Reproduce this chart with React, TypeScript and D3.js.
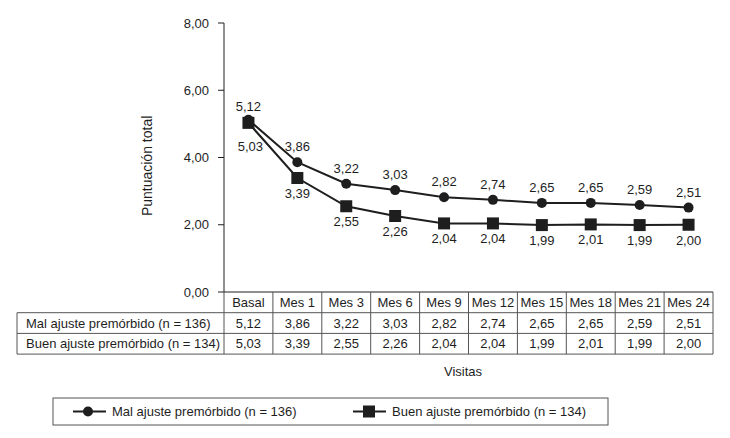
import * as d3 from 'd3';

const visits = ['Basal', 'Mes 1', 'Mes 3', 'Mes 6', 'Mes 9', 'Mes 12', 'Mes 15', 'Mes 18', 'Mes 21', 'Mes 24'];
const malAjuste = [5.12, 3.86, 3.22, 3.03, 2.82, 2.74, 2.65, 2.65, 2.59, 2.51];
const buenAjuste = [5.03, 3.39, 2.55, 2.26, 2.04, 2.04, 1.99, 2.01, 1.99, 2.0];
const yTicks = [0, 2, 4, 6, 8];
const malLabel = 'Mal ajuste premórbido (n = 136)';
const buenLabel = 'Buen ajuste premórbido (n = 134)';

const W = 730;
const H = 438;
const font = '"Liberation Sans", Arial, Helvetica, sans-serif';
const ink = '#1e1e1e';
const grid = '#555';

const fmt = (v: number) => v.toFixed(2).replace('.', ',');

export default function App() {
  const x = d3.scaleBand<string>().domain(visits).range([224, 713]).padding(0);
  const y = d3.scaleLinear().domain([0, 8]).range([292, 23]);
  const cx = (v: string) => (x(v) ?? 0) + x.bandwidth() / 2;

  const line = d3
    .line<number>()
    .x((_, i) => cx(visits[i]))
    .y((d) => y(d));

  const rowTop = y(0);
  const rowH = 20.7;
  const labelLeft = 17;
  const tableRight = x.range()[1];

  return (
    <div style={{ position: 'absolute', left: 0, top: 0 }}>
      <svg width={W} height={H} style={{ display: 'block', background: '#fff' }} fontFamily={font} fill={ink}>
        {/* y axis */}
        <line x1={224} x2={224} y1={y(8)} y2={y(0)} stroke={ink} strokeWidth={1} />
        {yTicks.map((t) => (
          <g key={t}>
            <line x1={218} x2={224} y1={y(t)} y2={y(t)} stroke={ink} />
            <text x={209} y={y(t) + 4.5} textAnchor="end" fontSize={13}>
              {fmt(t)}
            </text>
          </g>
        ))}
        <text
          transform={`translate(152, ${y(3.75)}) rotate(-90)`}
          textAnchor="middle"
          fontSize={14}
        >
          Puntuación total
        </text>

        {/* series */}
        <path d={line(malAjuste) ?? ''} fill="none" stroke={ink} strokeWidth={2} />
        <path d={line(buenAjuste) ?? ''} fill="none" stroke={ink} strokeWidth={2} />
        {malAjuste.map((v, i) => (
          <circle key={'m' + i} cx={cx(visits[i])} cy={y(v)} r={5} fill={ink} />
        ))}
        {buenAjuste.map((v, i) => (
          <rect key={'b' + i} x={cx(visits[i]) - 6} y={y(v) - 6} width={12} height={12} fill={ink} />
        ))}
        {malAjuste.map((v, i) => (
          <text key={'ml' + i} x={cx(visits[i])} y={y(v) - (i === 0 ? 9 : 11)} textAnchor="middle" fontSize={13}>
            {fmt(v)}
          </text>
        ))}
        {buenAjuste.map((v, i) => (
          <text key={'bl' + i} x={cx(visits[i]) + (i === 0 ? 2 : 0)} y={y(v) + (i === 0 ? 28 : 20)} textAnchor="middle" fontSize={13}>
            {fmt(v)}
          </text>
        ))}

        {/* table */}
        <g stroke={grid} strokeWidth={1} fill="none">
          <line x1={224} x2={tableRight} y1={rowTop} y2={rowTop} stroke={ink} />
          <line x1={labelLeft} x2={tableRight} y1={rowTop + rowH} y2={rowTop + rowH} />
          <line x1={labelLeft} x2={tableRight} y1={rowTop + rowH * 2} y2={rowTop + rowH * 2} />
          <line x1={labelLeft} x2={tableRight} y1={rowTop + rowH * 3} y2={rowTop + rowH * 3} />
          <line x1={labelLeft} x2={labelLeft} y1={rowTop + rowH} y2={rowTop + rowH * 3} />
          {visits.map((v) => (
            <line key={v} x1={x(v)} x2={x(v)} y1={rowTop} y2={rowTop + rowH * 3} />
          ))}
          <line x1={tableRight} x2={tableRight} y1={rowTop} y2={rowTop + rowH * 3} />
        </g>
        {visits.map((v, i) => (
          <g key={'t' + v}>
            <text x={cx(v)} y={rowTop + 15} textAnchor="middle" fontSize={13}>
              {v}
            </text>
            <text x={cx(v)} y={rowTop + rowH + 15} textAnchor="middle" fontSize={13}>
              {fmt(malAjuste[i])}
            </text>
            <text x={cx(v)} y={rowTop + rowH * 2 + 15} textAnchor="middle" fontSize={13}>
              {fmt(buenAjuste[i])}
            </text>
          </g>
        ))}
        <text x={labelLeft + 9} y={rowTop + rowH + 15} fontSize={13}>
          {malLabel}
        </text>
        <text x={labelLeft + 9} y={rowTop + rowH * 2 + 15} fontSize={13}>
          {buenLabel}
        </text>

        <text x={463} y={376} textAnchor="middle" fontSize={13}>
          Visitas
        </text>

        {/* legend */}
        <rect x={53} y={398} width={555} height={27} fill="none" stroke={grid} />
        <line x1={73} x2={106} y1={411.5} y2={411.5} stroke={ink} strokeWidth={2} />
        <circle cx={88} cy={411.5} r={5} fill={ink} />
        <text x={112} y={416} fontSize={13}>
          {malLabel}
        </text>
        <line x1={353} x2={386} y1={411.5} y2={411.5} stroke={ink} strokeWidth={2} />
        <rect x={363} y={405.5} width={12} height={12} fill={ink} />
        <text x={392} y={416} fontSize={13}>
          {buenLabel}
        </text>
      </svg>
    </div>
  );
}
